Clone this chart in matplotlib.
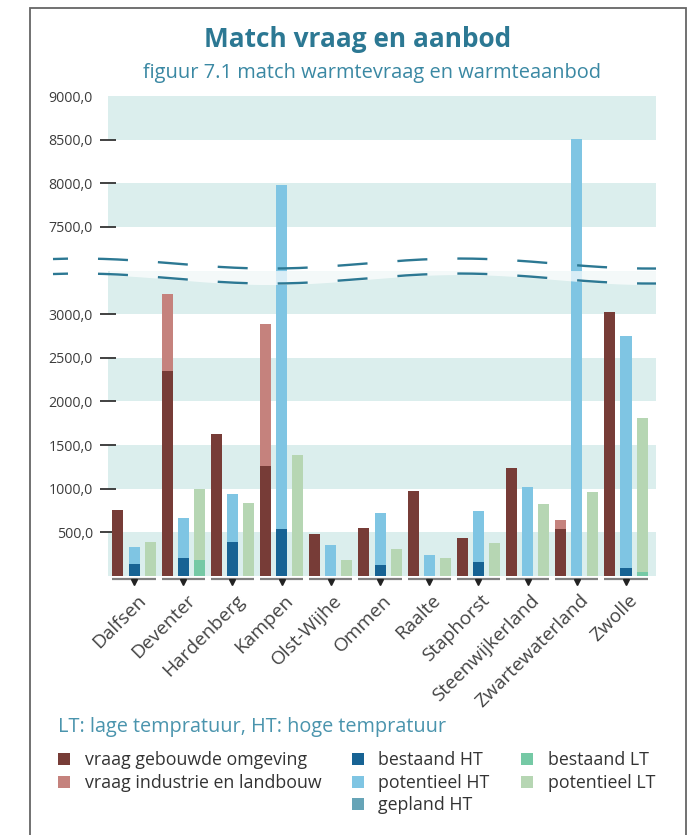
import numpy as np
import matplotlib
matplotlib.use('Agg')
import matplotlib.pyplot as plt
from matplotlib import transforms
from matplotlib.patches import Rectangle

plt.rcParams['font.family'] = ['Open Sans', 'DejaVu Sans']
plt.rcParams['lines.scale_dashes'] = False

# data
gemeenten = ['Dalfsen', 'Deventer', 'Hardenberg', 'Kampen', 'Olst-Wijhe', 'Ommen',
             'Raalte', 'Staphorst', 'Steenwijkerland', 'Zwartewaterland', 'Zwolle']
vraag_gebouwd = [755, 2347, 1625, 1259, 481, 549, 973, 435, 1236, 538, 3022]
vraag_industrie = [0, 889, 0, 1626, 0, 0, 0, 0, 0, 103, 0]
bestaand_ht = [137, 206, 389, 538, 0, 126, 0, 160, 0, 0, 92]
potentieel_ht = [195, 458, 550, 7437, 351, 595, 240, 584, 1019, 8510, 2655]
gepland_ht = [0, 0, 0, 0, 0, 0, 0, 0, 0, 0, 0]
bestaand_lt = [0, 183, 0, 0, 0, 0, 0, 0, 0, 0, 46]
potentieel_lt = [389, 813, 836, 1385, 183, 309, 206, 378, 824, 962, 1763]

yticks = [500, 1000, 1500, 2000, 2500, 3000, 7500, 8000, 8500, 9000]
ytick_labels = ['500,0', '1000,0', '1500,0', '2000,0', '2500,0', '3000,0',
                '7500,0', '8000,0', '8500,0', '9000,0']

c_gebouwd = '#773c37'
c_industrie = '#c5827d'
c_best_ht = '#176394'
c_pot_ht = '#7fc5e3'
c_gepl_ht = '#66a4b7'
c_best_lt = '#75c9a5'
c_pot_lt = '#b6d6b3'
band = '#dbeeed'
teal = '#2c7893'

# y axis with a gap between 3500 and 7000
brk_lo, brk_hi = 3500, 7000


def fwd(v):
    v = np.asarray(v, dtype=float)
    return np.where(v <= brk_lo, v, np.where(v >= brk_hi, v - (brk_hi - brk_lo), brk_lo))


def inv(u):
    u = np.asarray(u, dtype=float)
    return np.where(u <= brk_lo, u, u + (brk_hi - brk_lo))


W, H = 691, 835
fig = plt.figure(figsize=(W / 100, H / 100), dpi=100)
ax = fig.add_axes([108 / W, 1 - 576 / H, 548 / W, 480 / H])
ax.set_yscale('function', functions=(fwd, inv))
ax.set_ylim(0, 9000)

for lo in [0, 1000, 2000, 3000, 7500, 8500]:
    ax.axhspan(lo, lo + 500, color=band, lw=0, zorder=0)

x = np.arange(len(gemeenten))
step = 0.327
bw = 0.224
ax.set_xlim(-0.53, len(gemeenten) - 1 + 0.61)

bot = np.array(vraag_gebouwd)
ax.bar(x - step, vraag_gebouwd, bw, color=c_gebouwd, zorder=2)
ax.bar(x - step, vraag_industrie, bw, bottom=bot, color=c_industrie, zorder=2)

bot = np.array(bestaand_ht)
ax.bar(x, bestaand_ht, bw, color=c_best_ht, zorder=2)
ax.bar(x, potentieel_ht, bw, bottom=bot, color=c_pot_ht, zorder=2)
bot = bot + np.array(potentieel_ht)
ax.bar(x, gepland_ht, bw, bottom=bot, color=c_gepl_ht, zorder=2)

ax.bar(x + step, bestaand_lt, bw, color=c_best_lt, zorder=2)
ax.bar(x + step, potentieel_lt, bw, bottom=bestaand_lt, color=c_pot_lt, zorder=2)

for s in ax.spines.values():
    s.set_visible(False)

# y ticks
ax.set_yticks(yticks, labels=ytick_labels)
ax.tick_params(axis='y', direction='inout', length=12, width=1.3, color='#333333',
               labelsize=10.2, labelcolor='#3c3c3c', pad=5)
ax.yaxis.get_major_ticks()[-1].tick1line.set_visible(False)
ax.yaxis.set_minor_locator(matplotlib.ticker.NullLocator())

# x labels + group underline with triangle
ax.set_xticks(x + 0.05, labels=gemeenten)
ax.tick_params(axis='x', length=0, pad=11, labelsize=13.8, labelcolor='#444444')
for lab in ax.get_xticklabels():
    lab.set_rotation(45)
    lab.set_ha('right')
    lab.set_rotation_mode('anchor')

xt = ax.get_xaxis_transform()
for xi in x:
    ax.plot([xi - step - bw / 2, xi + step + bw / 2], [-3 / 480, -3 / 480], color='#808080',
            lw=1.6, transform=xt, clip_on=False, solid_capstyle='butt')
ax.plot(x, [-5.5 / 480] * len(x), 'v', color='#222222', ms=4.5, transform=xt, clip_on=False)

# break marker: pale strip and two wavy dashed lines
seam = brk_lo / (9000 - (brk_hi - brk_lo))
bt = transforms.blended_transform_factory(fig.transFigure, ax.transAxes)
xs = np.linspace(53, 656, 300)
wav = 5 * np.cos(2 * np.pi * (xs - 460) / 380)
upper = seam + (7 + wav) / 480
lower = seam - (8 - wav) / 480
xi_plot = xs >= 108
ax.fill_between(xs[xi_plot] / W, seam, lower[xi_plot] - 1 / 480, color='white', alpha=0.7,
                lw=0, transform=bt, zorder=3)
for yy in (upper, lower):
    ax.plot(xs / W, yy, color=teal, lw=1.7, linestyle=(10.8, (21.6, 21.6)),
            transform=bt, clip_on=False, zorder=4)

# frame
fig.patches.append(Rectangle((30 / W, -0.1), (686 - 30) / W, 1 - 8 / H + 0.1,
                             transform=fig.transFigure, fill=False, ec='#666666', lw=1.3))

# titles
fig.text(358 / W, 1 - 47 / H, 'Match vraag en aanbod', ha='center', va='baseline',
         fontsize=18.9, fontweight='bold', color=teal)
fig.text(372 / W, 1 - 78 / H, 'figuur 7.1 match warmtevraag en warmteaanbod', ha='center',
         va='baseline', fontsize=14.4, color='#3a88a3')
fig.text(58 / W, 1 - 732 / H, 'LT: lage tempratuur, HT: hoge tempratuur', ha='left',
         va='baseline', fontsize=14.3, color='#4a94ad')

# legend
legend_cols = [
    (58, 85, ['vraag gebouwde omgeving', 'vraag industrie en landbouw'], [c_gebouwd, c_industrie]),
    (352, 378, ['bestaand HT', 'potentieel HT', 'gepland HT'], [c_best_ht, c_pot_ht, c_gepl_ht]),
    (521, 548, ['bestaand LT', 'potentieel LT'], [c_best_lt, c_pot_lt]),
]
for sq_x, tx_x, names, cols in legend_cols:
    for r, (name, col) in enumerate(zip(names, cols)):
        y0 = 753 + 22.5 * r
        fig.patches.append(Rectangle((sq_x / W, 1 - (y0 + 12) / H), 12 / W, 12 / H,
                                     transform=fig.transFigure, color=col, lw=0))
        fig.text(tx_x / W, 1 - (y0 + 12) / H, name, ha='left', va='baseline',
                 fontsize=12.8, color='#333333')

fig.savefig('out.png', dpi=100)
